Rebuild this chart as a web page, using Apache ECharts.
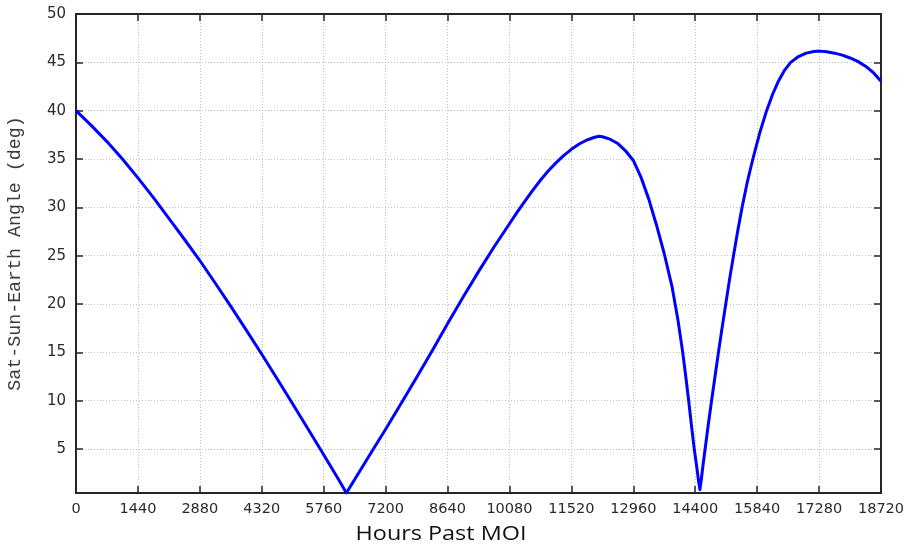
<!DOCTYPE html>
<html>
<head>
<meta charset="utf-8">
<title>Sat-Sun-Earth Angle</title>
<script src="https://cdn.jsdelivr.net/npm/echarts@6/dist/echarts.min.js"></script>
<style>
  html, body { margin: 0; padding: 0; background: #ffffff; }
  #chart { width: 913px; height: 548px; }
</style>
</head>
<body>
<div id="chart"></div>
<script>
// Time since Mars orbit insertion (hours) and the matching Sat-Sun-Earth angle (deg)
const hoursPastMoi = [
  // first decline to the minimum near 6287 h
  0, 360, 720, 1080, 1440, 1800, 2160, 2520, 2880, 3240, 3600, 3960, 4320, 4680,
  5040, 5400, 5760, 6120, 6287,
  // climb to the first maximum
  6480, 6840, 7200, 7560, 7920, 8280, 8640, 9000, 9360, 9720,
  10080, 10260, 10440, 10620, 10800, 10980, 11160, 11340, 11520, 11700, 11880, 12060, 12170,
  // drop into the narrow dip near 14509 h
  12240, 12420, 12600, 12780, 12960, 13140, 13320, 13500, 13680, 13860, 14000, 14106,
  14180, 14245, 14320, 14377, 14440, 14480, 14509,
  // steep recovery and the second maximum
  14540, 14580, 14630, 14700, 14780, 14860, 14940, 15020, 15110, 15200, 15290, 15390,
  15490, 15610, 15740, 15900, 16060, 16200, 16340, 16480, 16620, 16800, 16980, 17160,
  17300, 17460, 17640, 17820, 18000, 18180, 18360, 18540, 18720
];
const satSunEarthAngle = [
  40.0, 38.45, 36.8, 35.0, 33.05, 31.0, 28.85, 26.7, 24.5, 22.15, 19.75, 17.3, 14.8, 12.25,
  9.65, 7.05, 4.4, 1.75, 0.45,
  1.85, 4.45, 7.05, 9.7, 12.4, 15.15, 17.95, 20.7, 23.35, 25.9,
  28.3, 29.5, 30.65, 31.75, 32.8, 33.75, 34.6, 35.35, 36.0, 36.55, 36.97, 37.25, 37.35,
  37.3, 37.05, 36.6, 35.85, 34.85, 33.1, 30.85, 28.15, 25.2, 21.8, 18.3, 15.1,
  12.5, 10.1, 7.15, 5.0, 3.0, 1.6, 0.8,
  1.8, 3.3, 5.0, 7.4, 10.0, 12.5, 15.0, 17.4, 20.0, 22.6, 25.0, 27.6,
  30.0, 32.6, 35.0, 37.7, 40.0, 41.7, 43.1, 44.2, 45.0, 45.6, 45.95, 46.12,
  46.16, 46.1, 45.95, 45.75, 45.45, 45.1, 44.6, 43.95, 43.05
];
const yTickValues = [5, 10, 15, 20, 25, 30, 35, 40, 45, 50];
const xTickStep = 1440;
const xMax = 18720;
const yMin = 0.45;
const yMax = 50;

const frameColor = '#262626';
const gridColor = '#bdbdbd';
const labelColor = '#2a2a2a';

const points = hoursPastMoi.map((h, i) => [h, satSunEarthAngle[i]]);
const plainNumber = v => String(v);

function xAxisDef(isTop) {
  return {
    type: 'value',
    position: isTop ? 'top' : 'bottom',
    min: 0,
    max: xMax,
    interval: xTickStep,
    axisLine: { show: true, onZero: false, lineStyle: { color: frameColor, width: 2 } },
    axisTick: { show: true, inside: true, length: 7, lineStyle: { color: frameColor, width: 1.5 } },
    axisLabel: {
      show: !isTop,
      margin: 9,
      color: labelColor,
      fontFamily: 'DejaVu Sans',
      fontSize: 14.5,
      hideOverlap: false,
      formatter: plainNumber
    },
    splitLine: {
      show: !isTop,
      lineStyle: { color: gridColor, width: 1, type: [1, 2] }
    }
  };
}

function yAxisDef(isRight) {
  return {
    type: 'value',
    position: isRight ? 'right' : 'left',
    min: yMin,
    max: yMax,
    axisLine: { show: true, onZero: false, lineStyle: { color: frameColor, width: 2 } },
    axisTick: {
      show: true, inside: true, length: 7,
      customValues: yTickValues,
      lineStyle: { color: frameColor, width: 1.5 }
    },
    axisLabel: {
      show: !isRight,
      customValues: yTickValues,
      margin: 10,
      color: labelColor,
      fontFamily: 'DejaVu Sans',
      fontSize: 15,
      formatter: plainNumber
    },
    splitLine: {
      show: !isRight,
      lineStyle: { color: gridColor, width: 1, type: [1, 2] }
    },
    name: isRight ? '' : 'Sat-Sun-Earth Angle (deg)',
    nameLocation: 'middle',
    nameRotate: 90,
    nameGap: 52,
    nameTextStyle: {
      fontFamily: 'Liberation Mono',
      fontSize: 18.3,
      color: '#3a3a3a'
    }
  };
}

const chart = echarts.init(document.getElementById('chart'), null, { renderer: 'canvas' });
chart.setOption({
  animation: false,
  backgroundColor: '#ffffff',
  grid: {
    left: 76, right: 32, top: 14, bottom: 55,
    containLabel: false,
    outerBoundsMode: 'none'
  },
  xAxis: [xAxisDef(false), xAxisDef(true)],
  yAxis: [yAxisDef(false), yAxisDef(true)],
  graphic: [{
    type: 'text',
    x: 441,
    y: 534,
    scaleX: 1.2,
    style: {
      text: 'Hours Past MOI',
      fontFamily: 'Open Sans',
      fontSize: 19.5,
      fill: '#111111',
      textAlign: 'center',
      textVerticalAlign: 'middle'
    }
  }],
  series: [{
    type: 'line',
    xAxisIndex: 0,
    yAxisIndex: 0,
    data: points,
    showSymbol: false,
    smooth: false,
    clip: true,
    lineStyle: { color: '#0000ff', width: 3, join: 'round' }
  }]
});
</script>
</body>
</html>
